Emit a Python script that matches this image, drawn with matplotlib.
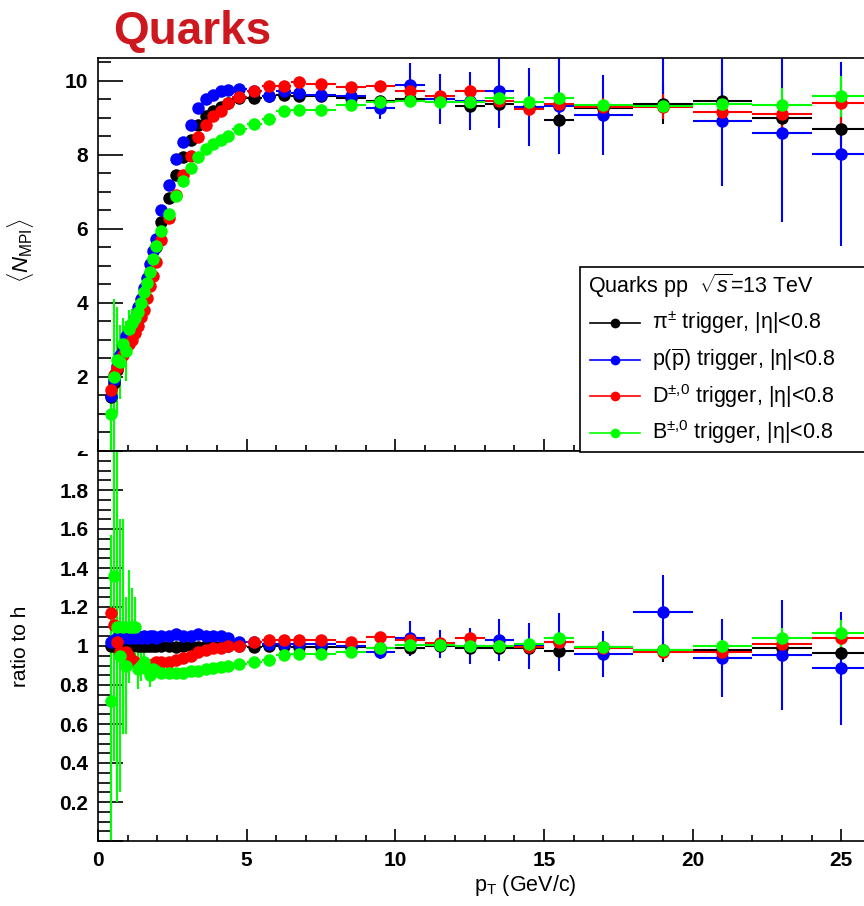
import numpy as np
import matplotlib
matplotlib.use('Agg')
import matplotlib.pyplot as plt
import matplotlib.transforms as mtransforms
from matplotlib.lines import Line2D
from matplotlib.patches import Rectangle
from matplotlib.ticker import MultipleLocator, FuncFormatter

plt.rcParams['font.family'] = ['Liberation Sans', 'DejaVu Sans']
plt.rcParams['mathtext.fontset'] = 'custom'
plt.rcParams['mathtext.rm'] = 'Liberation Sans'
plt.rcParams['mathtext.it'] = 'Liberation Sans:italic'
plt.rcParams['mathtext.bf'] = 'Liberation Sans:bold'

# pT bin edges (GeV/c)
pt_edges = np.array([0.4, 0.5, 0.6, 0.7, 0.8, 0.9, 1.0, 1.1, 1.2, 1.3, 1.4, 1.5, 1.6, 1.7, 1.8, 1.9, 2.0,
                     2.25, 2.5, 2.75, 3.0, 3.25, 3.5, 3.75, 4.0, 4.25, 4.5,
                     5.0, 5.5, 6.0, 6.5, 7.0, 8.0, 9.0, 10.0, 11.0, 12.0, 13.0, 14.0, 15.0, 16.0,
                     18.0, 20.0, 22.0, 24.0, 26.0])

# <N_MPI> vs pT of the trigger particle
pi_mpi = [1.45, 1.85, 2.2, 2.5, 2.75, 2.95, 3.1, 3.25, 3.45, 3.7, 3.95, 4.2, 4.5, 4.8, 5.15, 5.5,
          6.2, 6.85, 7.45, 7.95, 8.4, 8.8, 9.05, 9.2, 9.3, 9.4,
          9.55, 9.55, 9.58, 9.62, 9.58, 9.6, 9.55, 9.47, 9.5, 9.5, 9.33, 9.38, 9.29, 8.95,
          9.28, 9.38, 9.47, 9.0, 8.7]
pi_mpi_err = [0.03] * 26 + [0.03, 0.03, 0.04, 0.04, 0.05, 0.05, 0.06, 0.08, 0.1, 0.12, 0.14, 0.16, 0.18, 0.22,
                            0.25, 0.54, 0.35, 0.4, 0.45]

p_mpi = [1.48, 1.91, 2.29, 2.6, 2.86, 3.1, 3.22, 3.41, 3.59, 3.89, 4.11, 4.41, 4.68, 5.04, 5.41, 5.72,
         6.51, 7.19, 7.9, 8.35, 8.82, 9.28, 9.5, 9.61, 9.72, 9.75,
         9.78, 9.74, 9.6, 9.72, 9.68, 9.62, 9.6, 9.26, 9.89, 9.51, 9.45, 9.74, 9.3, 9.33,
         9.08, 11.0, 8.93, 8.59, 8.02]
p_mpi_err = [0.04] * 26 + [0.05, 0.06, 0.07, 0.08, 0.1, 0.12, 0.18, 0.3, 0.59, 0.68, 0.78, 1.0, 1.05, 1.3,
                           1.08, 1.5, 1.77, 2.4, 2.48]

d_mpi = [1.65, 2.05, 2.25, 2.42, 2.6, 2.85, 2.88, 3.0, 3.2, 3.37, 3.63, 3.82, 4.14, 4.46, 4.74, 5.12,
         5.7, 6.3, 6.93, 7.47, 7.98, 8.49, 8.82, 9.06, 9.2, 9.4,
         9.56, 9.74, 9.87, 9.87, 9.96, 9.92, 9.83, 9.87, 9.74, 9.6, 9.74, 9.47, 9.24, 9.38,
         9.3, 9.3, 9.16, 9.12, 9.4]
d_mpi_err = [0.15, 0.2, 0.25, 0.25, 0.25, 0.25, 0.2, 0.2, 0.2, 0.2, 0.15, 0.15, 0.12, 0.1, 0.1, 0.08,
             0.06, 0.06, 0.05, 0.05, 0.05, 0.05, 0.05, 0.05, 0.05, 0.05,
             0.05, 0.05, 0.05, 0.06, 0.06, 0.07, 0.08, 0.1, 0.12, 0.14, 0.15, 0.18, 0.2, 0.22,
             0.25, 0.34, 0.4, 0.5, 0.63]

b_mpi = [1.0, 2.0, 2.45, 2.4, 2.9, 2.7, 3.3, 3.45, 3.6, 3.75, 4.0, 4.3, 4.55, 4.85, 5.2, 5.55,
         5.95, 6.4, 6.9, 7.3, 7.65, 7.95, 8.15, 8.3, 8.4, 8.5,
         8.7, 8.83, 8.97, 9.2, 9.22, 9.22, 9.36, 9.42, 9.47, 9.44, 9.44, 9.53, 9.44, 9.53,
         9.35, 9.33, 9.38, 9.35, 9.58]
b_mpi_err = [1.2, 2.1, 1.45, 1.0, 0.7, 0.8, 0.5, 0.4, 0.35, 0.3, 0.25, 0.2, 0.15, 0.12, 0.1, 0.08,
             0.07, 0.06, 0.05, 0.05, 0.05, 0.04, 0.04, 0.04, 0.04, 0.04,
             0.04, 0.04, 0.04, 0.04, 0.04, 0.04, 0.05, 0.05, 0.06, 0.06, 0.07, 0.08, 0.08, 0.1,
             0.1, 0.12, 0.2, 0.46, 0.55]

# ratio to inclusive hadrons
pi_ratio = [1.0, 1.0, 1.0, 0.995, 1.0, 1.005, 1.0, 1.0, 1.005, 1.0, 1.0, 1.0, 1.0, 1.0, 1.0, 1.0,
            1.0, 1.0, 0.995, 1.0, 1.0, 0.995, 1.0, 1.0, 0.995, 1.0,
            1.0, 0.995, 1.0, 1.0, 0.995, 0.995, 0.995, 0.99, 0.99, 1.0, 0.99, 0.99, 0.99, 0.975,
            0.995, 0.98, 0.98, 0.99, 0.966]
pi_ratio_err = [0.01] * 33 + [0.01, 0.012, 0.014, 0.015, 0.017, 0.02, 0.025, 0.03, 0.06, 0.04, 0.05, 0.06]

p_ratio = [1.02, 1.03, 1.04, 1.04, 1.04, 1.05, 1.04, 1.05, 1.04, 1.05, 1.04, 1.05, 1.04, 1.05, 1.05, 1.04,
           1.05, 1.05, 1.06, 1.05, 1.05, 1.06, 1.05, 1.05, 1.05, 1.04,
           1.02, 1.02, 1.01, 1.01, 1.01, 1.01, 1.0, 0.97, 1.04, 1.01, 1.0, 1.03, 1.0, 1.02,
           0.96, 1.176, 0.94, 0.954, 0.886]
p_ratio_err = [0.01] * 31 + [0.015, 0.02, 0.035, 0.09, 0.073, 0.09, 0.106, 0.116, 0.15, 0.117, 0.19, 0.2,
                             0.28, 0.29]

d_ratio = [1.17, 1.11, 1.02, 0.97, 0.96, 0.97, 0.95, 0.93, 0.92, 0.91, 0.9, 0.89, 0.89, 0.9, 0.91, 0.92,
           0.92, 0.92, 0.93, 0.94, 0.95, 0.97, 0.98, 0.99, 0.99, 1.0,
           1.0, 1.02, 1.03, 1.03, 1.03, 1.03, 1.02, 1.048, 1.03, 1.014, 1.04, 1.0, 0.995, 1.02,
           0.99, 0.97, 0.97, 1.01, 1.04]
d_ratio_err = [0.04, 0.05, 0.06, 0.06, 0.05, 0.05, 0.04, 0.04, 0.03, 0.03, 0.03, 0.02, 0.02, 0.02, 0.02, 0.02,
               0.01, 0.01, 0.01, 0.01, 0.01, 0.01, 0.01, 0.01, 0.01, 0.01,
               0.01, 0.01, 0.01, 0.01, 0.01, 0.01, 0.01, 0.012, 0.014, 0.016, 0.018, 0.02, 0.022, 0.025,
               0.03, 0.035, 0.04, 0.05, 0.06]

b_ratio = [0.72, 1.36, 1.1, 0.95, 1.1, 0.9, 1.1, 1.1, 1.1, 0.88, 0.9, 0.92, 0.88, 0.85, 0.88, 0.87,
           0.86, 0.86, 0.86, 0.86, 0.87, 0.87, 0.88, 0.885, 0.89, 0.897,
           0.91, 0.92, 0.93, 0.954, 0.96, 0.96, 0.97, 0.99, 1.005, 1.005, 1.0, 1.0, 1.01, 1.04,
           0.995, 0.98, 1.0, 1.04, 1.065]
b_ratio_err = [0.85, 0.95, 0.9, 0.7, 0.55, 0.35, 0.29, 0.2, 0.15, 0.1, 0.08, 0.06, 0.05, 0.06, 0.04, 0.03,
               0.02, 0.02, 0.02, 0.02, 0.02, 0.02, 0.02, 0.02, 0.02, 0.02,
               0.01, 0.01, 0.01, 0.01, 0.01, 0.01, 0.012, 0.012, 0.014, 0.014, 0.016, 0.018, 0.02, 0.022,
               0.025, 0.03, 0.03, 0.05, 0.07]

eta_cut = r'$|\mathrm{\eta}|$<0.8'
series = [
    (r'$\mathrm{\pi}^{\pm}$ trigger, ' + eta_cut, 'black', pi_mpi, pi_mpi_err, pi_ratio, pi_ratio_err),
    (r'p($\overline{\rm p}$) trigger, ' + eta_cut, '#0000ff', p_mpi, p_mpi_err, p_ratio, p_ratio_err),
    (r'D$^{\pm\mathrm{,}0}$ trigger, ' + eta_cut, '#ff0000', d_mpi, d_mpi_err, d_ratio, d_ratio_err),
    (r'B$^{\pm\mathrm{,}0}$ trigger, ' + eta_cut, '#00ff00', b_mpi, b_mpi_err, b_ratio, b_ratio_err),
]

pt = 0.5 * (pt_edges[1:] + pt_edges[:-1])
pt_hw = 0.5 * np.diff(pt_edges)

W, H = 864, 906
fig = plt.figure(figsize=(W / 100, H / 100), dpi=100)

# pads: frame runs from pT=0 to 30, the right part falls outside the canvas
x0, x1 = 98, 990
ax1 = fig.add_axes([x0 / W, 1 - 451 / H, (x1 - x0) / W, (451 - 58) / H])
ax2 = fig.add_axes([x0 / W, 1 - 841 / H, (x1 - x0) / W, (841 - 451) / H])

for name, col, y, ye, r, re in series:
    ax1.errorbar(pt, y, xerr=pt_hw, yerr=ye, fmt='o', color=col, ms=9, elinewidth=1.5,
                 capsize=0, mew=0)
    ax2.errorbar(pt, r, xerr=pt_hw, yerr=re, fmt='o', color=col, ms=9, elinewidth=1.5,
                 capsize=0, mew=0)

for ax in (ax1, ax2):
    ax.set_xlim(0, 30)
    ax.xaxis.set_major_locator(MultipleLocator(5))
    ax.xaxis.set_minor_locator(MultipleLocator(1))
    ax.tick_params(which='both', direction='in', width=1.2, top=False, right=False,
                   labelsize=15, pad=7)
    ax.tick_params(axis='x', which='major', length=8.5)
    ax.tick_params(axis='x', which='minor', length=4.3)
    ax.tick_params(axis='y', which='major', length=18)
    ax.tick_params(axis='y', which='minor', length=9)
    for sp in ax.spines.values():
        sp.set_linewidth(1.2)

ax1.set_ylim(0, 10.62)
ax1.yaxis.set_major_locator(MultipleLocator(2))
ax1.yaxis.set_minor_locator(MultipleLocator(0.5))
ax1.yaxis.set_major_formatter(FuncFormatter(lambda v, p: '' if v < 1 else '%g' % v))
ax1.tick_params(axis='x', labelbottom=False)

ax2.set_ylim(0, 2)
ax2.yaxis.set_major_locator(MultipleLocator(0.2))
ax2.yaxis.set_minor_locator(MultipleLocator(0.05))
ax2.yaxis.set_major_formatter(FuncFormatter(lambda v, p: '' if v < 0.1 or v > 1.9 else '%g' % round(v, 2)))
ax2.xaxis.set_major_formatter(FuncFormatter(lambda v, p: '' if v > 26 else '%g' % v))
for lbl in ax1.get_yticklabels() + ax2.get_xticklabels() + ax2.get_yticklabels():
    lbl.set_fontweight('bold')

# the "2" of the ratio axis is cut by the upper pad
clip = Rectangle((0, 0), 1, 1 - 451 / H, transform=fig.transFigure)
tr = mtransforms.blended_transform_factory(ax2.transAxes, ax2.transData)
t2 = ax2.text(-10 / (x1 - x0), 2.0, '2', transform=tr, ha='right', va='center',
              fontsize=15, fontweight='bold', clip_on=True)
t2.set_clip_path(clip)

# axis titles
fig.text(20 / W, 1 - 250 / H, r'$\langle N_{\rm MPI}\rangle$', rotation=90, ha='center', va='center',
         fontsize=16)
fig.text(20 / W, 1 - 646 / H, 'ratio to h', rotation=90, ha='center', va='center', fontsize=15)
fig.text(525 / W, 1 - 886 / H, r'p$_{\rm T}$ (GeV/c)', ha='center', va='center', fontsize=15.5)

fig.text(113 / W, 1 - 44 / H, 'Quarks', color='#cc181e', fontsize=33, fontweight='bold',
         ha='left', va='baseline')

# legend box
fig.add_artist(Rectangle((580 / W, 1 - 452 / H), 0.5, (452 - 267) / H, transform=fig.transFigure,
                         facecolor='white', edgecolor='black', lw=1.2, zorder=5))
fig.text(588 / W, 1 - 286 / H, r'Quarks pp  $\sqrt{s}$=13 TeV', fontsize=15.5, ha='left', va='center',
         zorder=6)
for i, (name, col, *_) in enumerate(series):
    yy = 1 - (323 + 36.5 * i) / H
    fig.add_artist(Line2D([590 / W, 615 / W, 640 / W], [yy, yy, yy], color=col, lw=1.2, marker='o',
                          ms=7, mew=0, markevery=[1], transform=fig.transFigure, zorder=6))
    fig.text(652 / W, yy, name, fontsize=15.5, ha='left', va='center', zorder=6)

plt.savefig('out.png', dpi=100)
plt.close()
